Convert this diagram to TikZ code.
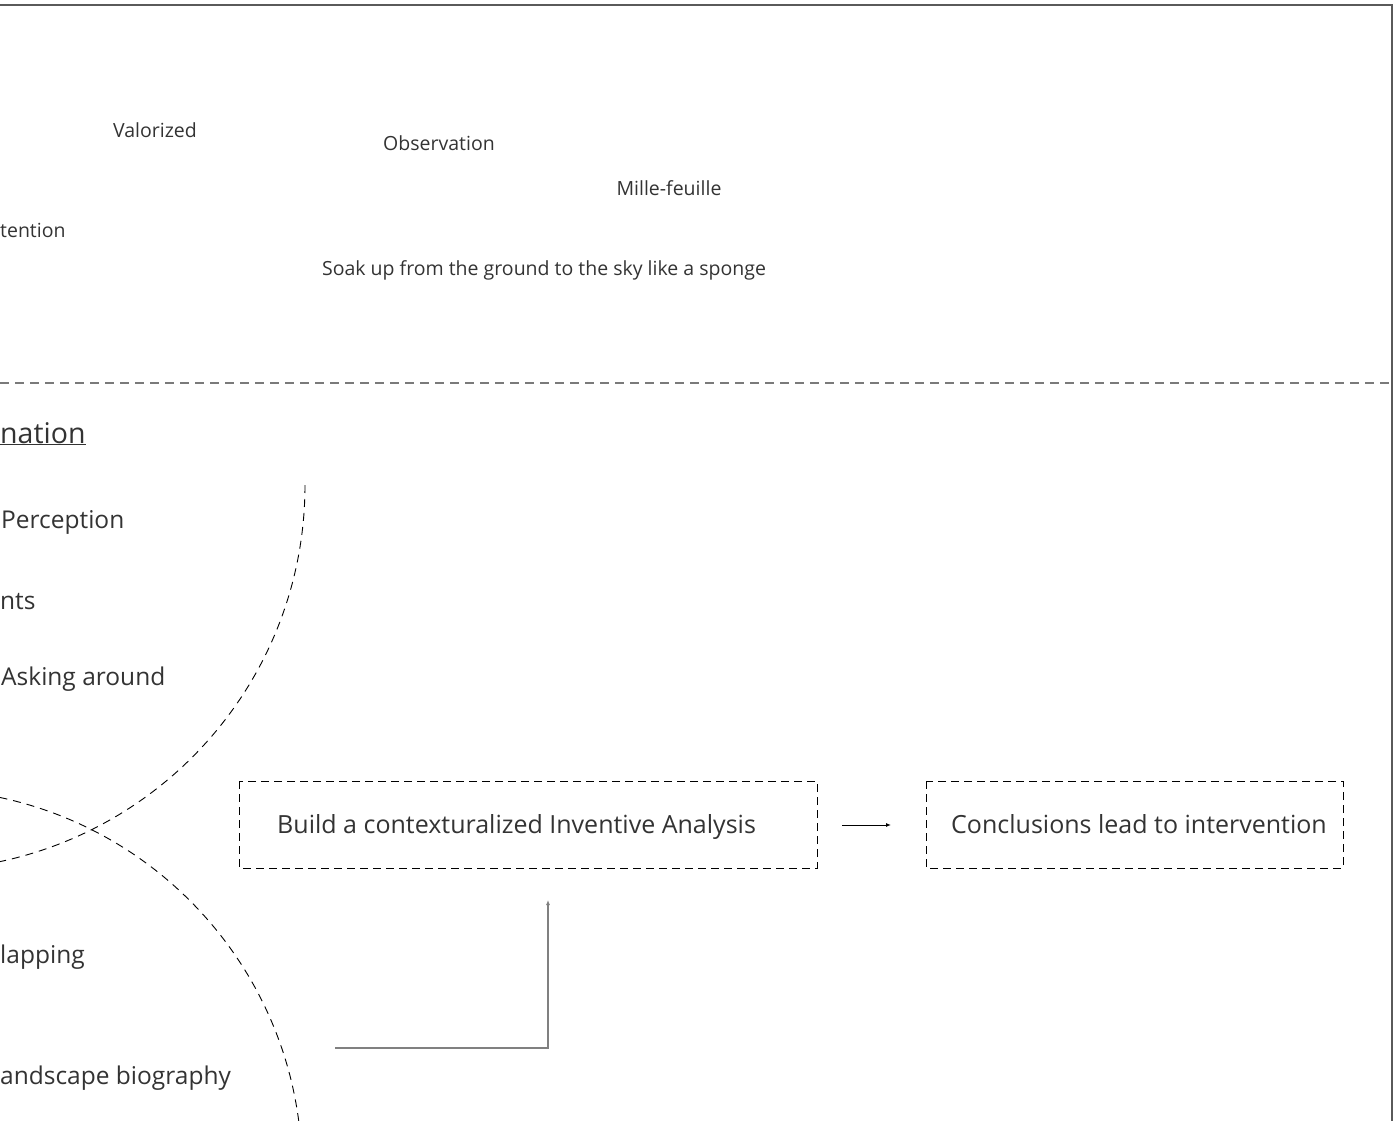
\documentclass[tikz,border=0pt]{standalone}
\usepackage{fontspec}
\setmainfont{Open Sans}
\usetikzlibrary{arrows.meta}
\definecolor{txt}{HTML}{333333}
\definecolor{frame}{HTML}{5A5A5A}
\definecolor{sep}{HTML}{7A7A7A}
\definecolor{conn}{HTML}{808080}
\tikzset{
  small/.style={inner sep=0pt, text=txt, font=\fontsize{19.5}{22}\selectfont},
  item/.style={inner sep=0pt, text=txt, font=\fontsize{24.5}{28}\selectfont, anchor=base west},
  boxtext/.style={inner sep=0pt, text=txt, font=\fontsize{25}{30}\selectfont, anchor=base west},
  dbox/.style={draw=black, line width=0.9pt, dash pattern=on 8pt off 5pt},
  arcline/.style={draw=black, line width=0.9pt, dash pattern=on 8pt off 6pt},
  tip/.style={-{Latex[length=5pt,width=4pt]}}
}
\begin{document}
\begin{tikzpicture}[x=1pt,y=-1pt]
\useasboundingbox (0,0) rectangle (1398,1121);
\clip (0,0) rectangle (1398,1121);
% frame
\draw[frame, line width=1.6pt] (0,5) -- (1392,5) -- (1392,1125);
% separator
\draw[sep, line width=1.2pt, dash pattern=on 9pt off 6pt] (0,383) -- (1392,383);
% top texts
\node[small, anchor=base] (val) at (155,138) {Valorized};
\node[small, anchor=base] (obs) at (439,151) {Observation};
\node[small, anchor=base] (mil) at (669,195) {Mille-feuille};
\node[small, anchor=base west] (att) at (0,237) {tention};
\node[small, anchor=base] (soak) at (544,275) {Soak up from the ground to the sky like a sponge};
% bottom list
\node[inner sep=0pt, text=txt, font=\fontsize{28.5}{34}\selectfont, anchor=base west] (nat) at (0,443) {\underline{nation}};
\node[item] (per) at (1,528) {Perception};
\node[item] (nts) at (0,609) {nts};
\node[item] (ask) at (1,685) {Asking around};
\node[item] (map) at (0,963) {lapping};
\node[item] (bio) at (0,1084) {andscape biography};
% arcs
\draw[arcline] (305,485) arc[start angle=0, end angle=80, radius=385];
\draw[arcline] (-80,1171) ++(-78:382) arc[start angle=-78, end angle=2, radius=382];
% boxes
\draw[dbox] (239,781) rectangle (817,868);
\node[boxtext] (b1) at (277,833) {Build a contexturalized Inventive Analysis};
\coordinate (b1s) at (548,868);
\draw[dbox] (926,781) rectangle (1343,868);
\node[boxtext] (b2) at (951,833) {Conclusions lead to intervention};
% connectors
\coordinate (a1) at (842,825);
\coordinate (a2) at (891,825);
\draw[black, line width=1pt, tip] (a1) -- (a2);
\coordinate (e1) at (335,1048);
\coordinate (e2) at (548,900);
\draw[conn, line width=1.3pt, tip] (e1) -| (e2);
\end{tikzpicture}
\end{document}
